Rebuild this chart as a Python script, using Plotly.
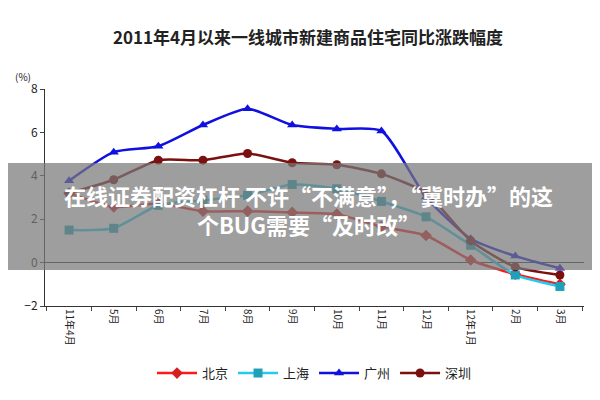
import plotly.graph_objects as go

months = ["11年4月","5月","6月","7月","8月","9月","10月","11月","12月","12年1月","2月","3月"]
beijing  = [3.2, 2.57, 2.72, 2.37, 2.37, 2.31, 2.23, 1.66, 1.25, 0.12, -0.53, -1.0]
shanghai = [1.5, 1.58, 2.64, 2.87, 3.1, 3.6, 3.4, 2.82, 2.11, 0.8, -0.57, -1.1]
guangzhou= [3.77, 5.09, 5.36, 6.34, 7.09, 6.34, 6.16, 6.07, 3.02, 1.1, 0.3, -0.26]
shenzhen = [3.2, 3.82, 4.72, 4.72, 5.03, 4.6, 4.51, 4.09, 3.21, 1.01, -0.2, -0.57]
yticks = [-2, 0, 2, 4, 6, 8]

W, H = 600, 400
L, R, T, B = 37, 24, 81, 102

fig = go.Figure()
series = [("北京", beijing, "#ff1a1a", "#d62020", "diamond"),
          ("上海", shanghai, "#22ccee", "#1fa0b8", "square"),
          ("广州", guangzhou, "#1010e0", "#1010e0", "triangle-up"),
          ("深圳", shenzhen, "#7a1010", "#7a1010", "circle")]
for name, vals, lc, mc, sym in series:
    fig.add_trace(go.Scatter(x=months, y=vals, name=name, mode="lines+markers",
        line=dict(color=lc, width=2.5, shape="spline", smoothing=0.6),
        marker=dict(symbol=sym, size=9, color=mc)))

fig.update_layout(
    width=W, height=H, margin=dict(l=L, r=R, t=T, b=B),
    paper_bgcolor="white", plot_bgcolor="white",
    font=dict(family="Noto Sans CJK SC", size=11, color="#222"),
    title=dict(text="<b>2011年4月以来一线城市新建商品住宅同比涨跌幅度</b>", x=0.5, y=0.925,
               xanchor="center", yanchor="middle", font=dict(size=17, color="#222")),
    showlegend=True,
    legend=dict(orientation="h", x=0.5, xanchor="center", y=-0.24, yanchor="top",
                font=dict(size=13), itemwidth=40),
    xaxis=dict(range=[-0.54, 11.54], showline=True, linecolor="#333", ticks="outside",
               tickson="boundaries", ticklen=4, tickangle=90, showgrid=False,
               tickfont=dict(size=10, family="Noto Sans CJK SC"),
               zeroline=False),
    yaxis=dict(range=[-2, 8], tickvals=yticks, showline=True, linecolor="#333",
               ticks="outside", ticklen=4, showgrid=False, zeroline=True,
               zerolinecolor="#333", zerolinewidth=1, tickfont=dict(size=12)),
)
fig.add_annotation(text="(%)", xref="paper", yref="paper", x=-0.06, y=1.1,
                   showarrow=False, font=dict(size=10), xanchor="left")
# overlay banner
fig.add_shape(type="rect", xref="paper", yref="paper",
              x0=-L/(W-L-R), x1=(W-L)/(W-L-R),
              y0=(H-B-262)/(H-T-B), y1=(H-B-155)/(H-T-B),
              fillcolor="rgba(120,120,120,0.72)", line=dict(width=0), layer="above")
fig.add_annotation(text="<b>在线证券配资杠杆 不许“不满意”，“冀时办”的这</b><br><b>个BUG需要“及时改”</b>",
                   xref="paper", yref="paper", x=(300-L)/(W-L-R), y=(H-B-201)/(H-T-B),
                   showarrow=False, font=dict(size=22, color="white", family="Noto Sans CJK SC"),
                   align="center", xanchor="center", yanchor="middle")
fig.write_html("out.html")
